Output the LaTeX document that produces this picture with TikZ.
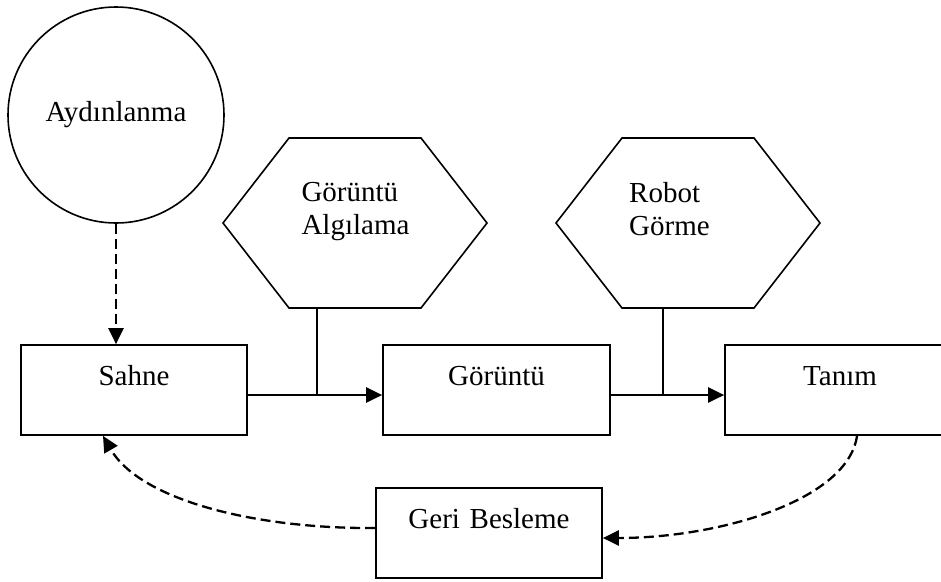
\documentclass[tikz,border=0pt]{standalone}
\usepackage{fontspec}
\setmainfont{Liberation Serif}
\usetikzlibrary{arrows.meta,calc}
\begin{document}
\begin{tikzpicture}[x=1pt,y=-1pt,
  font=\fontsize{29}{33}\selectfont,
  box/.style={draw,line width=1.7pt,rectangle,inner sep=0pt,text height=40pt,text depth=50pt,align=center},
  solidarr/.style={line width=2.5pt,-{Triangle[length=16pt,width=15pt]}},
  dasharr/.style={line width=2.3pt,dash pattern=on 10pt off 5pt,-{Triangle[length=16pt,width=15pt]}},
  hexline/.style={line width=1.6pt,line join=miter},
  conn/.style={line width=1.6pt}]
\useasboundingbox (0,0) rectangle (941,581);
\clip (0,0) rectangle (941,581);

% circle
\node[draw,circle,line width=1.6pt,minimum size=216pt,inner sep=0pt] (ayd) at (116,115) {\raisebox{7pt}{Aydınlanma}};

% boxes
\node[box,text width=226pt] (sahne) at (134,390) {Sahne};
\node[box,text width=227pt] (gor) at (496.5,390) {Görüntü};
\node[box,text width=230pt] (tanim) at (840,390) {Tanım};
\node[box,text width=226pt] (geri) at (489,533) {Geri Besleme};

% hexagon A
\coordinate (hA) at (355,223);
\draw[hexline] ($(hA)+(-132,0)$) -- ($(hA)+(-66,-85)$) -- ($(hA)+(66,-85)$) -- ($(hA)+(132,0)$) -- ($(hA)+(66,85)$) -- ($(hA)+(-66,85)$) -- cycle;
\node[align=left] (hAt) at (355.5,212) {Görüntü\\Algılama};
\coordinate (hAb) at ($(hA)+(-38,85)$);

% hexagon B
\coordinate (hB) at (688,223);
\draw[hexline] ($(hB)+(-132,0)$) -- ($(hB)+(-66,-85)$) -- ($(hB)+(66,-85)$) -- ($(hB)+(132,0)$) -- ($(hB)+(66,85)$) -- ($(hB)+(-66,85)$) -- cycle;
\node[align=left] (hBt) at (669.5,209) {Robot\\Görme};
\coordinate (hBb) at ($(hB)+(-25,85)$);

% main arrows
\draw[solidarr] ([yshift=-5pt]sahne.east) -- ([yshift=-5pt]gor.west);
\draw[solidarr] ([yshift=-5pt]gor.east) -- ([yshift=-5pt]tanim.west);
\coordinate (jA) at (hAb |- 0,395);
\coordinate (jB) at (hBb |- 0,395);
\draw[conn] (hAb) -- (jA);
\draw[conn] (hBb) -- (jB);

% dashed arrows
\draw[dasharr] (ayd.south) -- (ayd.south |- sahne.north);
\draw[dasharr] ([xshift=17pt]tanim.south) .. controls (848,500) and (720,538) .. ([yshift=-5pt]geri.east);
\draw[dasharr] ([yshift=5pt]geri.west) .. controls (255,529) and (140,500) .. ([xshift=-31pt]sahne.south);
\end{tikzpicture}
\end{document}
